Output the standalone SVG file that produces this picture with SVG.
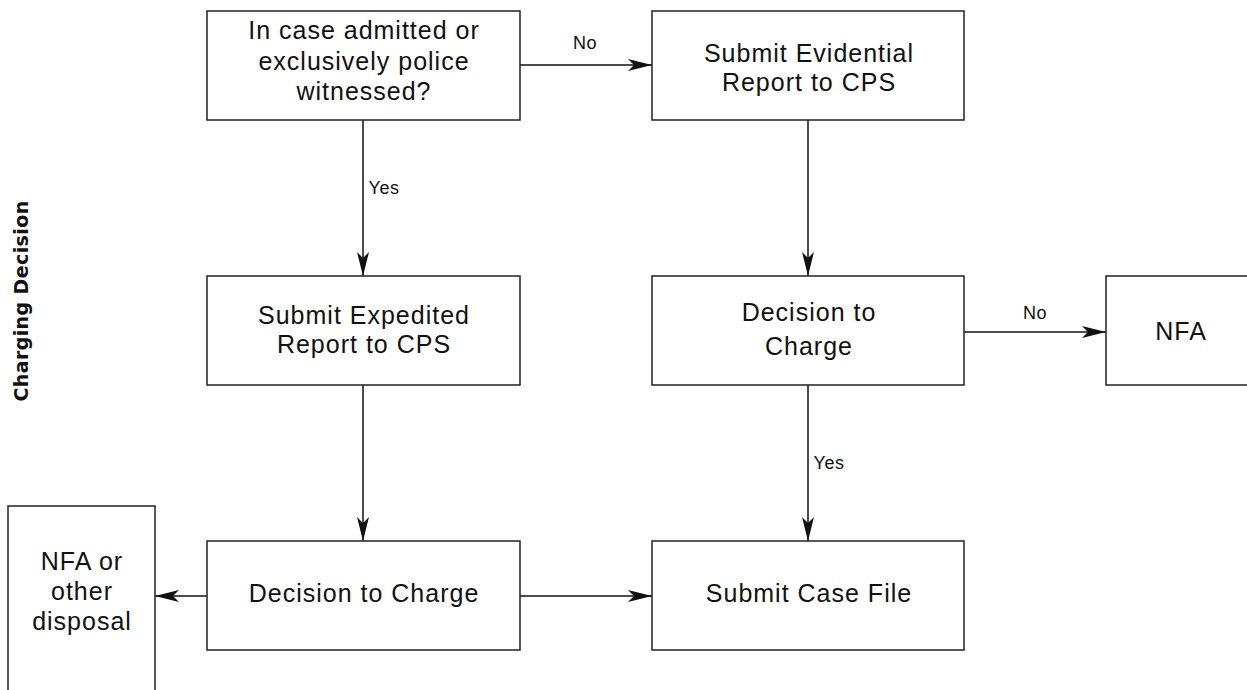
<svg xmlns="http://www.w3.org/2000/svg" width="1247" height="690" viewBox="0 0 1247 690">
<style>
.box{fill:#fff;stroke:#222;stroke-width:1.5}
.t{font-family:"Liberation Sans",Arial,sans-serif;font-size:25px;letter-spacing:1px;fill:#111;text-anchor:middle}
.l{font-family:"Liberation Sans",Arial,sans-serif;font-size:18px;letter-spacing:0.5px;fill:#111;text-anchor:middle}
.c{stroke:#111;stroke-width:1.5;fill:none;marker-end:url(#ah)}
</style>
<defs>
<marker id="ah" viewBox="0 0 24 12" refX="24" refY="6" markerWidth="24" markerHeight="12" markerUnits="userSpaceOnUse" orient="auto">
<path d="M0,0 L24,6 L0,12 L6,6 Z" fill="#111"/>
</marker>
</defs>
<rect width="1247" height="690" fill="#fff"/>
<text x="28" y="301" transform="rotate(-90 28 301)" font-family="'DejaVu Sans','Liberation Sans',Arial,sans-serif" font-size="19" font-weight="bold" letter-spacing="0.4" text-anchor="middle" fill="#111">Charging Decision</text>
<g id="connectors">
<path class="c" d="M520,65 H652"/>
<text class="l" x="585" y="49">No</text>
<path class="c" d="M363,120 V276"/>
<text class="l" x="384" y="194">Yes</text>
<path class="c" d="M808,120 V276"/>
<path class="c" d="M964,332 H1106"/>
<text class="l" x="1035" y="319">No</text>
<path class="c" d="M808,385 V541"/>
<text class="l" x="829" y="469">Yes</text>
<path class="c" d="M363,385 V541"/>
<path class="c" d="M520,596 H652"/>
<path class="c" d="M207,596 H155"/>
</g>
<g id="n1"><rect class="box" x="207" y="11" width="313" height="109"/>
<text class="t" x="364" y="39">In case admitted or</text>
<text class="t" x="364" y="70">exclusively police</text>
<text class="t" x="364" y="100">witnessed?</text></g>
<g id="n2"><rect class="box" x="652" y="11" width="312" height="109"/>
<text class="t" x="809" y="62">Submit Evidential</text>
<text class="t" x="809" y="91">Report to CPS</text></g>
<g id="n3"><rect class="box" x="207" y="276" width="313" height="109"/>
<text class="t" x="364" y="324">Submit Expedited</text>
<text class="t" x="364" y="353">Report to CPS</text></g>
<g id="n4"><rect class="box" x="652" y="276" width="312" height="109"/>
<text class="t" x="809" y="321">Decision to</text>
<text class="t" x="809" y="355">Charge</text></g>
<g id="n5"><rect class="box" x="1106" y="276" width="150" height="109"/>
<text class="t" x="1181" y="340">NFA</text></g>
<g id="n6"><rect class="box" x="207" y="541" width="313" height="109"/>
<text class="t" x="364" y="602">Decision to Charge</text></g>
<g id="n7"><rect class="box" x="652" y="541" width="312" height="109"/>
<text class="t" x="809" y="602">Submit Case File</text></g>
<g id="n8"><rect class="box" x="8" y="506" width="147" height="200"/>
<text class="t" x="82" y="570">NFA or</text>
<text class="t" x="82" y="600">other</text>
<text class="t" x="82" y="630">disposal</text></g>
</svg>
